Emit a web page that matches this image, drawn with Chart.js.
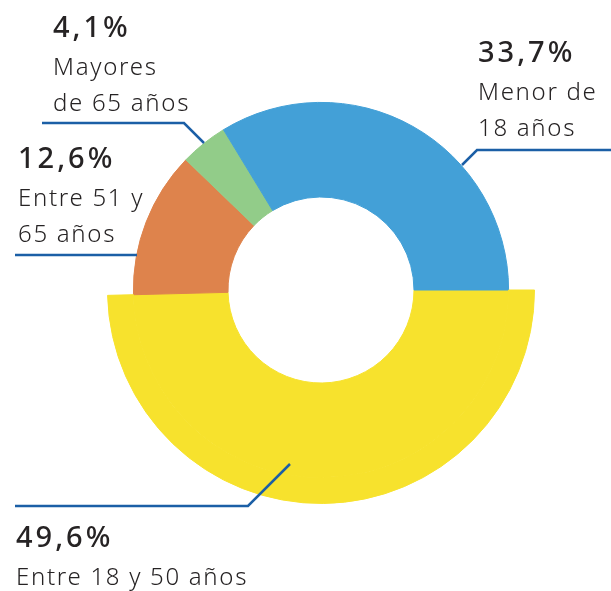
<!DOCTYPE html>
<html>
<head>
<meta charset="utf-8">
<script src="https://cdn.jsdelivr.net/npm/chart.js@4"></script>
<style>
  html, body { margin: 0; padding: 0; background: #fff; }
  #wrap { position: relative; width: 611px; height: 591px; }
</style>
</head>
<body>
<div id="wrap"><canvas id="chart" width="611" height="591"></canvas></div>
<script>
// order: clockwise from 3 o'clock
const categories = ['Entre 18 y 50 años', 'Entre 51 y 65 años', 'Mayores de 65 años', 'Menor de 18 años'];
const values = [49.6, 12.6, 4.1, 33.7];
const colors = ['#f7e22d', '#de834c', '#92cc89', '#43a0d7'];
// the yellow slice sticks out further than the others
const raised = [true, false, false, false];

// label text, split in lines, and where it sits
const labelLines = [
  ['Entre 18 y 50 años'],
  ['Entre 51 y', '65 años'],
  ['Mayores', 'de 65 años'],
  ['Menor de', '18 años']
];
const labelPos = [
  { x: 16, y: 547, lead: [[15, 506], [248, 506], [290, 464]] },
  { x: 18, y: 168, lead: [[15, 255], [137, 255]] },
  { x: 53, y: 37, lead: [[42, 123], [184, 123], [204, 143]] },
  { x: 478, y: 62, lead: [[611, 150], [477, 150], [462, 165]] }
];

const fmt = v => v.toFixed(1).replace('.', ',') + '%';

const labelPlugin = {
  id: 'labels',
  afterDatasetsDraw(chart) {
    const ctx = chart.ctx;
    ctx.save();
    ctx.strokeStyle = '#1b5fa6';
    ctx.lineWidth = 2.5;
    ctx.lineJoin = 'miter';
    labelPos.forEach(p => {
      ctx.beginPath();
      p.lead.forEach((pt, i) => i ? ctx.lineTo(pt[0], pt[1]) : ctx.moveTo(pt[0], pt[1]));
      ctx.stroke();
    });
    ctx.fillStyle = '#262324';
    ctx.textBaseline = 'alphabetic';
    values.forEach((v, i) => {
      const p = labelPos[i];
      ctx.font = '500 29px "Noto Sans"';
      ctx.letterSpacing = '3px';
      ctx.fillText(fmt(v), p.x, p.y);
      ctx.font = '300 24px "Noto Sans"';
      ctx.letterSpacing = '1.7px';
      labelLines[i].forEach((t, j) => {
        ctx.fillText(t, p.x, p.y + 38 + j * 36);
      });
    });
    ctx.restore();
  }
};

new Chart(document.getElementById('chart'), {
  type: 'doughnut',
  data: {
    labels: categories,
    datasets: [
      {
        // outer ring: only the raised slice shows
        data: values,
        weight: 26,
        backgroundColor: colors.map((c, i) => raised[i] ? c : 'rgba(0,0,0,0)'),
        borderColor: colors.map((c, i) => raised[i] ? c : 'rgba(0,0,0,0)'),
        borderWidth: 1
      },
      {
        data: values,
        weight: 95,
        backgroundColor: colors,
        borderColor: colors,
        borderWidth: 1
      }
    ]
  },
  options: {
    responsive: false,
    animation: false,
    rotation: 90,
    cutout: 93,
    layout: { padding: { left: 107, right: 76, top: 76, bottom: 87 } },
    plugins: { legend: { display: false }, tooltip: { enabled: false } }
  },
  plugins: [labelPlugin]
});
</script>
</body>
</html>
